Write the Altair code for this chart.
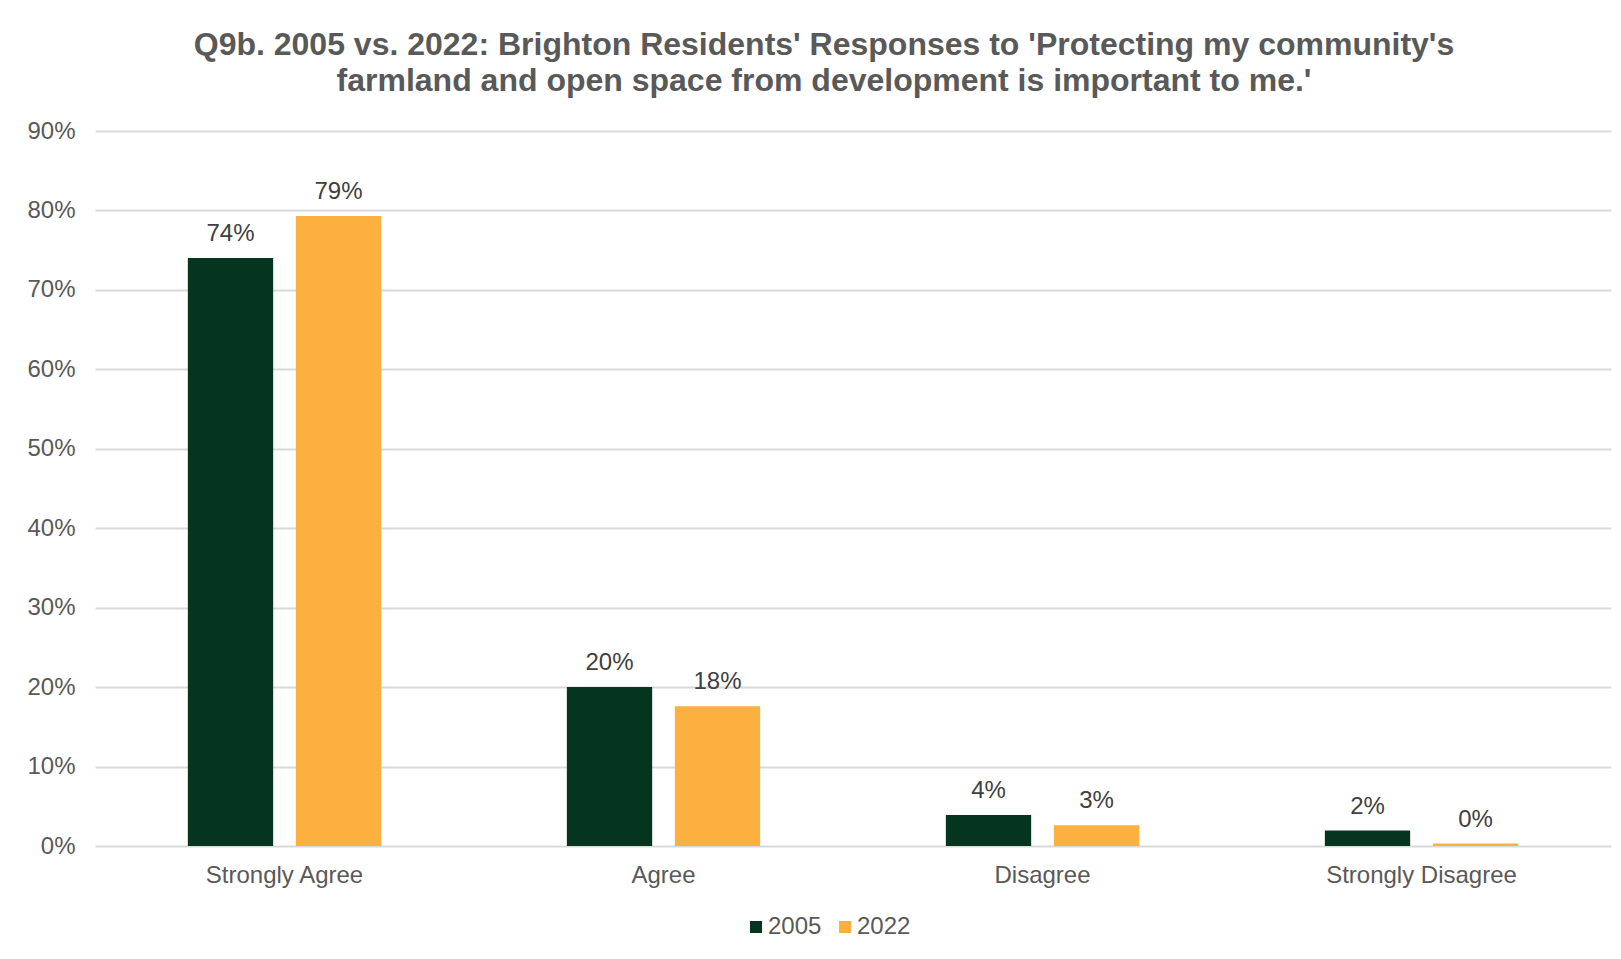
import altair as alt
import pandas as pd

categories = ["Strongly Agree", "Agree", "Disagree", "Strongly Disagree"]
years = ["2005", "2022"]
values_2005 = [0.74, 0.20, 0.039, 0.0195]
values_2022 = [0.793, 0.176, 0.026, 0.003]

rows = []
for c, v in zip(categories, values_2005):
    rows.append({"category": c, "year": "2005", "value": v})
for c, v in zip(categories, values_2022):
    rows.append({"category": c, "year": "2022", "value": v})
df = pd.DataFrame(rows)
df["label"] = (df["value"] * 100).round().astype(int).astype(str) + "%"

colors = ["#05341f", "#fbb040"]
FONT = "Liberation Sans"

base = alt.Chart(df).encode(
    x=alt.X("category:N", sort=categories, title=None,
            scale=alt.Scale(paddingInner=0.49, paddingOuter=0.245),
            axis=alt.Axis(labelAngle=0, labelFontSize=24, labelColor="#595959",
                          labelFont=FONT, labelPadding=17, ticks=False,
                          labelLimit=0, domain=False, grid=False)),
    xOffset=alt.XOffset("year:N", sort=years,
                        scale=alt.Scale(paddingInner=0.21, paddingOuter=0)),
)

bars = base.mark_bar().encode(
    y=alt.Y("value:Q", title=None,
            scale=alt.Scale(domain=[0, 0.9], nice=False),
            axis=alt.Axis(format=".0%", values=[i / 10 for i in range(10)],
                          labelFontSize=24, labelColor="#595959", labelFont=FONT,
                          labelPadding=20, ticks=False, domain=False,
                          gridColor="#d9d9d9", gridWidth=2)),
    color=alt.Color("year:N", sort=years,
                    scale=alt.Scale(domain=years, range=colors),
                    legend=alt.Legend(title=None, orient="none", direction="horizontal",
                                      legendX=649, legendY=784,
                                      symbolType="square", symbolSize=144,
                                      symbolStrokeWidth=0, labelFontSize=24,
                                      labelColor="#595959", labelFont=FONT,
                                      labelOffset=0, columnPadding=11, padding=0)),
)

labels = base.mark_text(baseline="alphabetic", dy=-17, fontSize=24,
                        font=FONT, color="#404040").encode(
    y=alt.Y("value:Q"),
    text="label:N",
)

chart = (bars + labels).properties(
    width=1516,
    height=715,
    background="white",
    title=alt.TitleParams(
        ["Q9b. 2005 vs. 2022: Brighton Residents' Responses to 'Protecting my community's",
         "farmland and open space from development is important to me.'"],
        fontSize=32, font=FONT, fontWeight="bold", color="#595959",
        anchor="middle", frame="group", dx=-29, offset=21, lineHeight=36,
    ),
    autosize=alt.AutoSizeParams(type="none"),
    padding={"left": 87, "top": 123, "right": 2, "bottom": 110},
).configure_view(stroke=None)

chart.save("out.html", embed_options={"renderer": "svg", "actions": False})
